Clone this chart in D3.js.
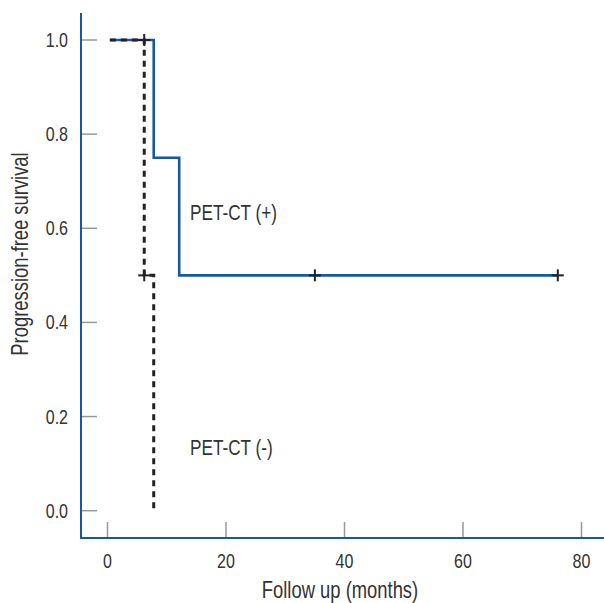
<!DOCTYPE html>
<html>
<head>
<meta charset="utf-8">
<script src="https://cdn.jsdelivr.net/npm/d3@7"></script>
<style>
  body { margin: 0; background: #fff; }
  text { font-family: "Liberation Sans Narrow", "Arial Narrow", "Liberation Sans", sans-serif; fill: #333; }
</style>
</head>
<body>
<div id="chart"></div>
<script>
// Kaplan-Meier step data (months, survival)
const petPosTimes = [0.4, 7.8, 12.1, 76];
const petPosSurv  = [1.0, 0.75, 0.5, 0.5];
const petPosCensor = [35, 76];

const petNegTimes = [0.4, 6.2, 7.8, 7.8];
const petNegSurv  = [1.0, 0.5, 0.5, 0.0];
const petNegCensorTimes = [6.2, 6.2];
const petNegCensorSurv  = [1.0, 0.5];

const xTicks = [0, 20, 40, 60, 80];
const yTicks = [0.0, 0.2, 0.4, 0.6, 0.8, 1.0];

const W = 604, H = 603;
const svg = d3.select("#chart").append("svg")
    .attr("width", W).attr("height", H);

const x = d3.scaleLinear().domain([0, 80]).range([107.5, 581.5]);
const y = d3.scaleLinear().domain([0, 1]).range([510.7, 40]);

const axisX = 81, axisY = 538;
const blue = "#17599e";
const narrow = 0.8; // condensed look, the narrow font is not installed

// condensed text helper
function label(g, tx, ty, str, size, anchor, rot) {
    return g.append("text")
        .attr("transform", `translate(${tx},${ty})` + (rot ? ` rotate(${rot})` : "") + ` scale(${narrow},1)`)
        .attr("text-anchor", anchor || "start")
        .style("font-size", size + "px")
        .text(str);
}

// y ticks point right, x ticks point up
svg.append("g")
    .selectAll("line")
    .data(yTicks)
    .join("line")
    .attr("x1", axisX).attr("x2", axisX + 16)
    .attr("y1", d => y(d)).attr("y2", d => y(d))
    .attr("stroke", "#999").attr("stroke-width", 1.5);

const yLab = svg.append("g");
yTicks.forEach(d => label(yLab, 68, y(d) + 7, d.toFixed(1), 20, "end"));

svg.append("g")
    .selectAll("line")
    .data(xTicks)
    .join("line")
    .attr("x1", d => x(d)).attr("x2", d => x(d))
    .attr("y1", axisY).attr("y2", axisY - 16)
    .attr("stroke", "#999").attr("stroke-width", 1.5);

const xLab = svg.append("g");
xTicks.forEach(d => label(xLab, x(d), 568, d, 20, "middle"));

// axis lines
svg.append("line")
    .attr("x1", axisX).attr("x2", axisX)
    .attr("y1", 13).attr("y2", axisY + 1)
    .attr("stroke", blue).attr("stroke-width", 2);
svg.append("line")
    .attr("x1", axisX).attr("x2", W)
    .attr("y1", axisY).attr("y2", axisY)
    .attr("stroke", blue).attr("stroke-width", 2);

// axis titles
label(svg, 340, 598, "Follow up (months)", 23, "middle");
label(svg, 28, 254, "Progression-free survival", 23, "middle", -90);

const step = d3.line()
    .x(d => x(d[0]))
    .y(d => y(d[1]))
    .curve(d3.curveStepAfter);

// PET-CT (+)
svg.append("path")
    .datum(petPosTimes.map((t, i) => [t, petPosSurv[i]]))
    .attr("fill", "none")
    .attr("stroke", blue)
    .attr("stroke-width", 2.6)
    .attr("d", step);

// PET-CT (-): explicit vertices so the last drop stays vertical
const negLine = d3.line().x(d => x(d[0])).y(d => y(d[1]));
const negPts = [];
petNegTimes.forEach((t, i) => {
    if (i > 0 && petNegTimes[i] !== petNegTimes[i - 1]) negPts.push([t, petNegSurv[i - 1]]);
    negPts.push([t, petNegSurv[i]]);
});
svg.append("path")
    .datum(negPts)
    .attr("fill", "none")
    .attr("stroke", "#222")
    .attr("stroke-width", 3)
    .attr("stroke-dasharray", "6,5")
    .attr("d", negLine);

// censor marks
const censor = [
    ...petPosCensor.map(t => [t, 0.5]),
    ...petNegCensorTimes.map((t, i) => [t, petNegCensorSurv[i]])
];
const cg = svg.append("g").attr("stroke", "#222").attr("stroke-width", 2);
censor.forEach(d => {
    cg.append("line")
        .attr("x1", x(d[0]) - 6).attr("x2", x(d[0]) + 6)
        .attr("y1", y(d[1])).attr("y2", y(d[1]));
    cg.append("line")
        .attr("x1", x(d[0])).attr("x2", x(d[0]))
        .attr("y1", y(d[1]) - 6).attr("y2", y(d[1]) + 6);
});

// group labels
label(svg, 190, 220, "PET-CT (+)", 21.5);
label(svg, 190, 455, "PET-CT (-)", 21.5);
</script>
</body>
</html>
